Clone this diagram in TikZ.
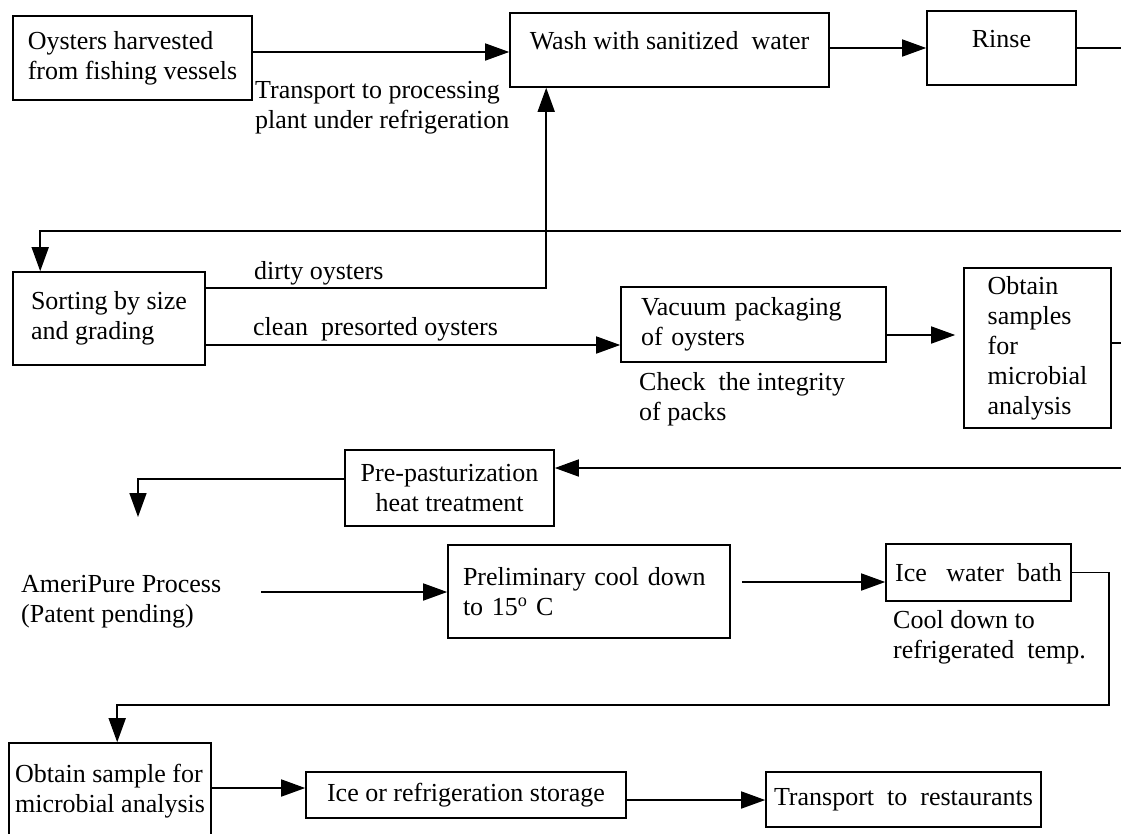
\documentclass[tikz,border=0pt]{standalone}
\usepackage{fontspec}
\setmainfont{Liberation Serif}
\usetikzlibrary{positioning,
                arrows.meta}                % arrow tips

\tikzset{
  box/.style={draw, line width=1.6pt, align=left, inner sep=4pt},
  flow/.style={line width=1.6pt},
  arr/.style={flow, -{Triangle[length=24pt,width=17pt]}},
  note/.style={align=left, inner sep=0pt, anchor=west},
}

\begin{document}
\begin{tikzpicture}[x=1pt, y=-1pt, font=\fontsize{26}{30}\selectfont]
      \useasboundingbox (0,0) rectangle (1121,833);
      \clip (0,0) rectangle (1121,833);

      % process steps
      \node[box, minimum width=239pt, minimum height=84pt] (harvest) at (132.5,58) {Oysters harvested\\from fishing vessels};
      \node[box, minimum width=319pt, minimum height=74pt, text depth=19pt] (wash) at (669.5,50) {Wash with sanitized\ \ water};
      \node[box, minimum width=149pt, minimum height=74pt, text depth=18pt] (rinse) at (1001.5,48) {Rinse};
      \node[box, minimum width=192pt, minimum height=93pt] (sort) at (109,318.5) {Sorting by size\\and grading};
      \node[box, minimum width=265pt, minimum height=75pt, text width=225pt] (vacuum) at (753.5,324.5) {Vacuum packaging\\of oysters};
      \node[box, minimum width=147pt, minimum height=160pt] (samples) at (1037.5,348) {Obtain\\samples\\for\\microbial\\analysis};
      \node[box, minimum width=209pt, minimum height=76pt, align=center] (heat) at (449.5,488) {Pre-pasturization\\heat treatment};
      \node[box, minimum width=282pt, minimum height=93pt, text width=252pt] (precool) at (589,591.5) {Preliminary cool down\\to 15\textsuperscript{o} C};
      \node[box, minimum width=185pt, minimum height=57pt] (icebath) at (978.5,572.5) {Ice\ \ \ water\ \ bath};
      \node[box, minimum width=202pt, minimum height=97pt] (sample) at (110,791.5) {Obtain sample for\\microbial analysis};
      \node[box, minimum width=320pt, minimum height=46pt] (storage) at (466,795) {Ice or refrigeration storage};
      \node[box, minimum width=275pt, minimum height=55pt] (restaurant) at (903.5,799.5) {Transport\ \ to\ \ restaurants};

      % side notes
      \node[note] (transport) at (255,107.5) {Transport to processing\\plant under refrigeration};
      \node[note] (dirty) at (254,273) {dirty oysters};
      \node[note] (clean) at (253,329) {clean\ \ presorted oysters};
      \node[note] (integrity) at (639,399.5) {Check\ \ the integrity\\of packs};
      \node[note] (ameripure) at (21,601.5) {AmeriPure Process\\(Patent pending)};
      \node[note] (cooldown) at (893,637.5) {Cool down to\\refrigerated\ \ temp.};

      % loose ends at the page edge
      \coordinate (rinseout) at (1121,48);
      \coordinate (backin) at (1121,231);
      \coordinate (samplesout) at (1121,343);
      \coordinate (heatin) at (1121,468);
      \coordinate (processin) at (138,517);
      \coordinate (processout) at (261,592);
      \coordinate (turn) at (1109,705);

      \draw[arr] ([yshift=6pt]harvest.east) -- ([yshift=6pt]harvest.east -| wash.west);
      \draw[arr] ([yshift=2pt]wash.east) -- ([yshift=2pt]wash.east -| rinse.west);
      \draw[flow] (rinse.east) -- (rinseout);
      \draw[arr] (backin) -| ([xshift=28pt]sort.north west);
      \draw[arr] ([yshift=30.5pt]sort.east) -| ([xshift=37pt]wash.south west);
      \draw[arr] ([yshift=-26.5pt]sort.east) -- ([yshift=-26.5pt]sort.east -| vacuum.west);
      \draw[arr, shorten >=8pt] ([yshift=-10.5pt]vacuum.east) -- ([yshift=-10.5pt]vacuum.east -| samples.west);
      \draw[flow] ([yshift=5pt]samples.east) -- (samplesout);
      \draw[arr] (heatin) -- (heatin -| heat.east);
      \draw[arr] ([yshift=9pt]heat.west) -| (processin);
      \draw[arr] (processout) -- (processout -| precool.west);
      \draw[arr] ([xshift=11pt,yshift=9.5pt]precool.east) -- ([yshift=9.5pt]precool.east -| icebath.west);
      \draw[arr] (icebath.east) -| (turn) -| ([xshift=109pt]sample.north west);
      \draw[arr] ([yshift=3.5pt]sample.east) -- ([yshift=3.5pt]sample.east -| storage.west);
      \draw[arr] ([yshift=-5pt]storage.east) -- ([yshift=-5pt]storage.east -| restaurant.west);

\end{tikzpicture}
\end{document}
